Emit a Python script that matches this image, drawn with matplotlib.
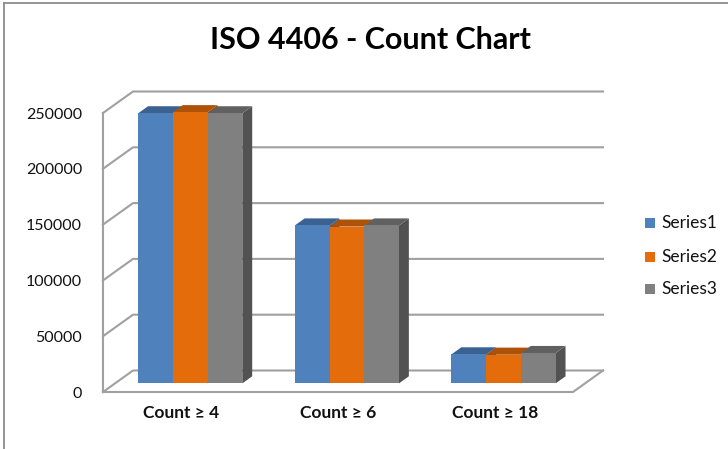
import matplotlib
matplotlib.use("Agg")
import matplotlib.pyplot as plt
from matplotlib.patches import Polygon, Rectangle
from matplotlib.lines import Line2D

# ---- data ----
categories = ["Count ≥ 4", "Count ≥ 6", "Count ≥ 18"]
series_names = ["Series1", "Series2", "Series3"]
series1 = [242000, 141500, 26000]
series2 = [243000, 140500, 25700]
series3 = [242000, 141500, 27200]
yticks = [0, 50000, 100000, 150000, 200000, 250000]
ytick_labels = ["0", "50000", "100000", "150000", "200000", "250000"]
title = "ISO 4406 - Count Chart"

values = [series1, series2, series3]
front_colors = ["#4F81BD", "#E46C0A", "#808080"]
top_colors = ["#3A6192", "#AE5208", "#606060"]
side_colors = ["#3A5A84", "#9E4A08", "#525252"]

plt.rcParams['font.family'] = ['Lato', 'DejaVu Sans']

W, H = 728, 449
fig = plt.figure(figsize=(W / 100, H / 100), dpi=100)
fig.patch.set_facecolor("white")

# front plane of the plot area
ax = fig.add_axes([103 / W, (H - 392) / H, 470 / W, 279 / H])
ax.set_xlim(0, 3)
ax.set_ylim(0, 250000)
for s in ax.spines.values():
    s.set_visible(False)
ax.patch.set_visible(False)

# depth of the 3D box in data units
ddx = 30 / 470 * 3
ddy = 21.5 / 279 * 250000
grid_c = "#A0A0A0"
lw = 1.5

# floor
floor = Polygon([(0, 0), (3, 0), (3 + ddx, ddy), (ddx, ddy)], closed=True,
                facecolor="white", edgecolor="none", clip_on=False, zorder=1)
ax.add_patch(floor)
ax.add_line(Line2D([0, 3, 3 + ddx], [0, 0, ddy], color=grid_c, lw=lw, clip_on=False, zorder=2))

# gridlines on back wall + left wall
for v in yticks:
    ax.add_line(Line2D([0, ddx, 3 + ddx], [v, v + ddy, v + ddy], color=grid_c, lw=lw,
                       clip_on=False, zorder=2))
ax.add_line(Line2D([0, 0], [0, yticks[-1]], color=grid_c, lw=lw, clip_on=False, zorder=2))

# bars
f0, f1 = 0.40, 0.73
group_w = 0.665
bar_w = group_w / 3
centre = 0.48
z = 3
for k in range(len(categories)):
    for s in range(3):
        v = values[s][k]
        x0 = k + centre - group_w / 2 + s * bar_w + f0 * ddx
        x1 = x0 + bar_w
        yb = f0 * ddy
        yt = v + f0 * ddy
        bx = (f1 - f0) * ddx
        by = (f1 - f0) * ddy
        front = Polygon([(x0, yb), (x1, yb), (x1, yt), (x0, yt)], closed=True,
                        facecolor=front_colors[s], edgecolor="none", clip_on=False, zorder=z)
        top = Polygon([(x0, yt), (x1, yt), (x1 + bx, yt + by), (x0 + bx, yt + by)], closed=True,
                      facecolor=top_colors[s], edgecolor="none", clip_on=False, zorder=z)
        side = Polygon([(x1, yb), (x1 + bx, yb + by), (x1 + bx, yt + by), (x1, yt)], closed=True,
                       facecolor=side_colors[s], edgecolor="none", clip_on=False, zorder=z)
        ax.add_patch(side)
        ax.add_patch(top)
        ax.add_patch(front)
        z += 1

# axes ticks
ax.set_yticks(yticks)
ax.set_yticklabels(ytick_labels, fontsize=11.5, color="#111111")
ax.tick_params(axis='y', length=0, pad=15)
ax.set_xticks([k + 0.5 for k in range(len(categories))])
ax.set_xticklabels(categories, fontsize=12.5, fontweight='bold', color="#111111")
ax.tick_params(axis='x', length=0, pad=9)

# title
fig.text(370 / W, 1 - 40 / H, title, ha='center', va='center', fontsize=22,
         fontweight='bold', color='black')

# legend
leg_y = [223, 257, 289]
for s in range(3):
    fig.add_artist(Rectangle((645 / W, 1 - (leg_y[s] + 5) / H), 10 / W, 10 / H,
                             transform=fig.transFigure, facecolor=front_colors[s],
                             edgecolor='none'))
    fig.text(661 / W, 1 - leg_y[s] / H, series_names[s], ha='left', va='center',
             fontsize=12.5, color='#111111')

# chart border
fig.add_artist(Line2D([4 / W, 1], [1 - 3 / H, 1 - 3 / H], transform=fig.transFigure,
                      color="#8C8C8C", lw=1.3))
fig.add_artist(Line2D([4 / W, 4 / W], [0, 1 - 3 / H], transform=fig.transFigure,
                      color="#8C8C8C", lw=1.3))

fig.savefig("out.png", dpi=100, facecolor="white")
